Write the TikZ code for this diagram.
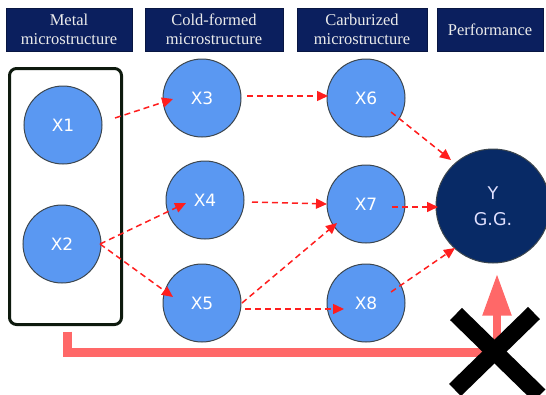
\documentclass[tikz,border=0pt]{standalone}
\usepackage{fontspec}
\setmainfont{Liberation Serif}
\newfontfamily\vsans{DejaVu Sans}
\usetikzlibrary{arrows.meta,calc}
\definecolor{hdrblue}{HTML}{0B1F5E}
\definecolor{cblue}{HTML}{5A98F2}
\definecolor{cedge}{HTML}{3C464E}
\definecolor{ynavy}{HTML}{082A66}
\definecolor{dred}{HTML}{FF1E1E}
\definecolor{pinkred}{HTML}{FF6868}
\definecolor{grpedge}{HTML}{0E1A0E}
\tikzset{
  hdr/.style={fill=hdrblue, draw=hdrblue!70!black, line width=0.6pt, inner sep=0pt,
    minimum height=43pt, align=center, text=white!92!black,
    font=\fontsize{16.5}{19}\selectfont},
  xnode/.style={circle, fill=cblue, draw=cedge, line width=1pt, minimum size=78pt,
    inner sep=0pt, text=white, font=\vsans\fontsize{17}{20}\selectfont},
  ynode/.style={circle, fill=ynavy, draw=cedge, line width=1pt, minimum size=114pt,
    inner sep=0pt, align=center, text=white!88!blue, font=\vsans\fontsize{17.5}{26}\selectfont},
  dasharrow/.style={draw=dred, line width=1.5pt, dash pattern=on 6pt off 4pt,
    -{Triangle[length=11pt,width=10pt,fill=dred]}},
  bigpink/.style={draw=pinkred, line width=9pt},
  crossbar/.style={draw=black, line width=17pt}
}
\begin{document}
\begin{tikzpicture}[x=1pt,y=-1pt]
\useasboundingbox (0,0) rectangle (546,394);
% header boxes
\node[hdr, minimum width=126pt] (h1) at (69,29.5) {Metal\\microstructure};
\node[hdr, minimum width=138pt] (h2) at (214,29.5) {Cold-formed\\microstructure};
\node[hdr, minimum width=130pt] (h3) at (362,29.5) {Carburized\\microstructure};
\node[hdr, minimum width=106pt] (h4) at (490,29.5) {Performance};
% group box
\node[draw=grpedge, line width=3pt, rounded corners=7pt, minimum width=112pt,
  minimum height=256pt, inner sep=0pt] (grp) at (65.5,196.5) {};
% nodes
\node[xnode] (X1) at (63,125) {X1};
\node[xnode] (X2) at (62,244) {X2};
\node[xnode] (X3) at (202,98) {X3};
\node[xnode] (X4) at (205,200) {X4};
\node[xnode] (X5) at (202,303) {X5};
\node[xnode] (X6) at (366,98) {X6};
\node[xnode] (X7) at (366,204) {X7};
\node[xnode] (X8) at (366,303) {X8};
\node[ynode] (Y) at (493,206) {Y\\G.G.};
% dashed arrows
\draw[dasharrow] ($(X1)+(52,-7)$) -- ($(X3)+(-29,1)$);
\draw[dasharrow] ($(X2)+(38,0)$) -- ($(X4)+(-19,3)$);
\draw[dasharrow] ($(X2)+(38,0)$) -- ($(X5)+(-29,-6)$);
\draw[dasharrow] ($(X3)+(45,-2)$) -- ($(X6)+(-38,-2)$);
\draw[dasharrow] ($(X4)+(47,2)$) -- ($(X7)+(-39,0)$);
\draw[dasharrow] ($(X5)+(40,0)$) -- ($(X7)+(-29,19)$);
\draw[dasharrow] ($(X5)+(43,6)$) -- ($(X8)+(-22,6)$);
\draw[dasharrow] ($(X6)+(25,14)$) -- ($(Y)+(-42,-46)$);
\draw[dasharrow] ($(X7)+(26,3)$) -- ($(Y)+(-55,1)$);
\draw[dasharrow] ($(X8)+(25,-11)$) -- ($(Y)+(-38,42)$);
% pink path
\coordinate (k) at (497,352.5);
\draw[bigpink] ($(grp.south)+(2,5.5)$) |- ([xshift=4.5pt]k);
\draw[bigpink, line width=8pt, -{Triangle[length=42pt,width=27pt,fill=pinkred]}] (k) -- ($(Y.south)+(4,10)$);
% black cross
\coordinate (c) at (494.5,351.5);
\draw[crossbar] ($(c)+(-38.5,-37.5)$) -- ($(c)+(45,44)$);
\draw[crossbar] ($(c)+(39.5,-38.5)$) -- ($(c)+(-39.5,38.5)$);
\end{tikzpicture}
\end{document}
